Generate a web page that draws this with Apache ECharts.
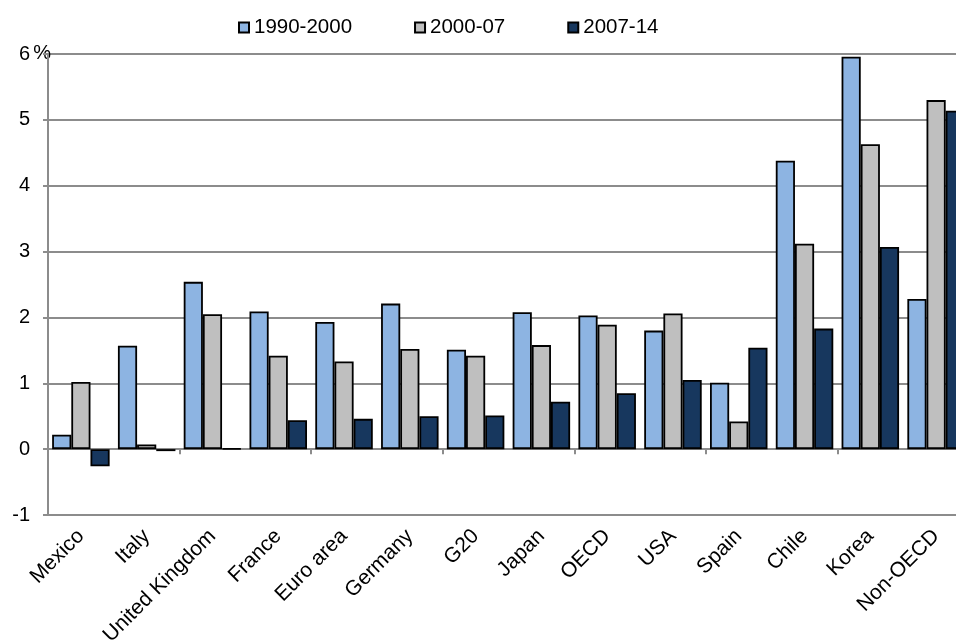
<!DOCTYPE html>
<html>
<head>
<meta charset="utf-8">
<script src="https://cdn.jsdelivr.net/npm/echarts@6/dist/echarts.min.js"></script>
<style>
html,body{margin:0;padding:0;background:#fff;}
#c{width:956px;height:644px;}
</style>
</head>
<body>
<div id="c"></div>
<script>
const categories = ['Mexico','Italy','United Kingdom','France','Euro area','Germany','G20','Japan','OECD','USA','Spain','Chile','Korea','Non-OECD'];
const s1990_2000 = [0.22, 1.57, 2.54, 2.09, 1.93, 2.21, 1.51, 2.08, 2.03, 1.80, 1.01, 4.38, 5.96, 2.28];
const s2000_07   = [1.02, 0.07, 2.05, 1.42, 1.33, 1.52, 1.42, 1.58, 1.89, 2.06, 0.42, 3.12, 4.63, 5.30];
const s2007_14   = [-0.26, -0.03, 0.01, 0.44, 0.46, 0.50, 0.51, 0.72, 0.85, 1.05, 1.54, 1.83, 3.07, 5.14];
const seriesNames = ['1990-2000','2000-07','2007-14'];
const yTicks = [-1, 0, 1, 2, 3, 4, 5, 6];

const colors = ['#8DB4E2','#BFBFBF','#17375E'];
const font = 'Liberation Sans, Arial, sans-serif';
const gridColor = '#8C8C8C';

const chart = echarts.init(document.getElementById('c'));
const data = [s1990_2000, s2000_07, s2007_14];
chart.setOption({
  animation: false,
  textStyle: {fontFamily: font, color: '#000'},
  legend: {
    top: 12, left: 233,
    icon: 'rect', itemWidth: 10, itemHeight: 10, itemGap: 62,
    textStyle: {fontSize: 20.5, fontFamily: font, color: '#000'},
    data: seriesNames
  },
  grid: {left: 48, width: 921, top: 54, bottom: 129, containLabel: false, outerBoundsMode: 'none'},
  xAxis: [{
    type: 'category', data: categories, position: 'bottom',
    axisLine: {onZero: true, lineStyle: {color: gridColor, width: 2}},
    axisTick: {show: true, length: 5, lineStyle: {color: gridColor, width: 2}},
    axisLabel: {show: false}
  }, {
    type: 'category', data: categories, position: 'bottom',
    axisLine: {show: false, onZero: false},
    axisTick: {show: false},
    axisLabel: {rotate: 45, margin: 18, fontSize: 21, color: '#000', fontFamily: font, interval: 0}
  }],
  yAxis: {
    type: 'value', min: yTicks[0], max: yTicks[yTicks.length-1], interval: 1,
    name: '%', nameLocation: 'end', nameGap: 0.5, nameMoveOverlap: false,
    nameTextStyle: {fontSize: 20, color: '#000', fontFamily: font, align: 'right', verticalAlign: 'middle', padding: [0, -3, 0, 0]},
    axisLine: {show: true, lineStyle: {color: gridColor, width: 2}},
    axisTick: {show: true, length: 5, lineStyle: {color: gridColor, width: 2}},
    axisLabel: {fontSize: 20, color: '#000', margin: 18, fontFamily: font},
    splitLine: {show: true, lineStyle: {color: gridColor, width: 2}}
  },
  series: seriesNames.map((n, i) => ({
    name: n, type: 'bar', xAxisIndex: 0, data: data[i],
    barGap: '0%', barCategoryGap: '12.6%',
    itemStyle: {color: colors[i], borderColor: '#000', borderWidth: 1.8}
  }))
});
</script>
</body>
</html>
